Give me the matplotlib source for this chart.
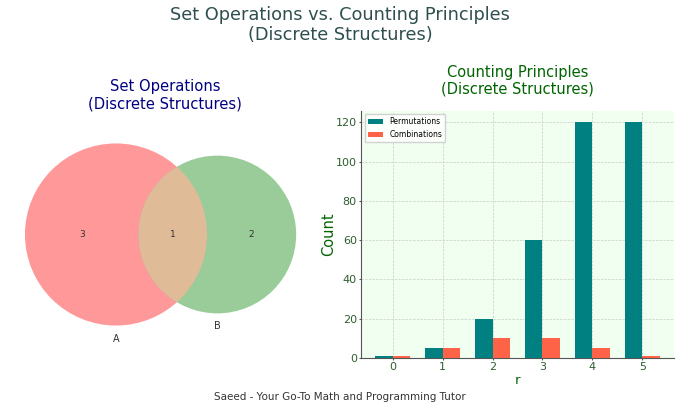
import numpy as np
import matplotlib
matplotlib.use("Agg")
import matplotlib.pyplot as plt
from matplotlib.patches import Circle

# Venn data: |A only|, |B only|, |A and B|
venn_labels = ["A", "B"]
only_a = 3
only_b = 2
both = 1

# Counting data, n = 5
r_values = [0, 1, 2, 3, 4, 5]
permutations = [1, 5, 20, 60, 120, 120]
combinations = [1, 5, 10, 10, 5, 1]

W, H = 680, 408
fig = plt.figure(figsize=(W / 100, H / 100), dpi=100)


def box(x0, y0, x1, y1):
    # pixel box (top-left origin) -> figure fraction rect
    return [x0 / W, 1 - y1 / H, (x1 - x0) / W, (y1 - y0) / H]


def overlap(ra, rb, d):
    a1 = ra**2 * np.arccos((d**2 + ra**2 - rb**2) / (2 * d * ra))
    a2 = rb**2 * np.arccos((d**2 + rb**2 - ra**2) / (2 * d * rb))
    a3 = 0.5 * np.sqrt((-d + ra + rb) * (d + ra - rb) * (d - ra + rb) * (d + ra + rb))
    return a1 + a2 - a3


# ---- Venn (area proportional) ----
ra = np.sqrt((only_a + both) / np.pi)
rb = np.sqrt((only_b + both) / np.pi)
lo, hi = abs(ra - rb) + 1e-9, ra + rb - 1e-9
for _ in range(80):
    mid = (lo + hi) / 2
    if overlap(ra, rb, mid) > both:
        lo = mid
    else:
        hi = mid
d = (lo + hi) / 2

scale = 80.7  # px per unit
cx, cy = 116, 234.5  # pixel centre of A
x0, y0, x1, y1 = 10, 114, 320, 352
ax1 = fig.add_axes(box(x0, y0, x1, y1))
ax1.set_xlim((x0 - cx) / scale, (x1 - cx) / scale)
ax1.set_ylim((cy - y1) / scale, (cy - y0) / scale)
ax1.axis("off")

ca = Circle((0, 0), ra, facecolor="#FF9999", edgecolor="none")
cb = Circle((d, 0), rb, facecolor="#99CC99", edgecolor="none")
ax1.add_patch(ca)
ax1.add_patch(cb)
cab = Circle((d, 0), rb, facecolor="#DFBB98", edgecolor="none")
ax1.add_patch(cab)
cab.set_clip_path(ca)

xi_left, xi_right = d - rb, ra
ax1.text((-ra + xi_left) / 2, 0, str(only_a), ha="center", va="center", fontsize=6.5, color="#333333")
ax1.text((xi_left + xi_right) / 2, 0, str(both), ha="center", va="center", fontsize=6.5, color="#333333")
ax1.text((xi_right + d + rb) / 2, 0, str(only_b), ha="center", va="center", fontsize=6.5, color="#333333")
ax1.text(0, -ra - 0.1, venn_labels[0], ha="center", va="top", fontsize=7, color="#333333")
ax1.text(d, -rb - 0.1, venn_labels[1], ha="center", va="top", fontsize=7, color="#333333")
ax1.set_title("Set Operations\n(Discrete Structures)", fontsize=10.6, color="navy", pad=4)

# ---- Counting bars ----
ax2 = fig.add_axes(box(361, 110.6, 674, 358))
ax2.set_facecolor("#F0FFF0")
x = np.arange(len(r_values))
w = 0.35
ax2.bar(x - w / 2, permutations, w, color="teal", label="Permutations", zorder=3)
ax2.bar(x + w / 2, combinations, w, color="tomato", label="Combinations", zorder=3)
ax2.set_xticks(x)
ax2.set_xticklabels([str(v) for v in r_values])
ax2.set_yticks(range(0, 121, 20))
ax2.set_xlabel("r", fontsize=9.5, color="darkgreen", labelpad=1)
ax2.set_ylabel("Count", fontsize=10.5, color="darkgreen", labelpad=0)
ax2.tick_params(labelsize=8, labelcolor="#2E5E2E", colors="#555555", length=1.5, pad=1.5)
ax2.grid(True, linestyle="--", color="#CCCCCC", linewidth=0.5, zorder=0)
ax2.spines["top"].set_visible(False)
ax2.spines["right"].set_visible(False)
for s in ("left", "bottom"):
    ax2.spines[s].set_color("#555555")
ax2.legend(loc="upper left", fontsize=5.5, framealpha=0.9)
ax2.set_title("Counting Principles\n(Discrete Structures)", fontsize=10.5, color="darkgreen", pad=12)

fig.suptitle("Set Operations vs. Counting Principles\n(Discrete Structures)",
             fontsize=12.8, color="#2F4F4F", y=0.985, linespacing=1.1)
fig.text(0.5, 0.027, "Saeed - Your Go-To Math and Programming Tutor",
         ha="center", va="center", fontsize=7.5, color="#333333")

fig.savefig("out.png", dpi=100)
